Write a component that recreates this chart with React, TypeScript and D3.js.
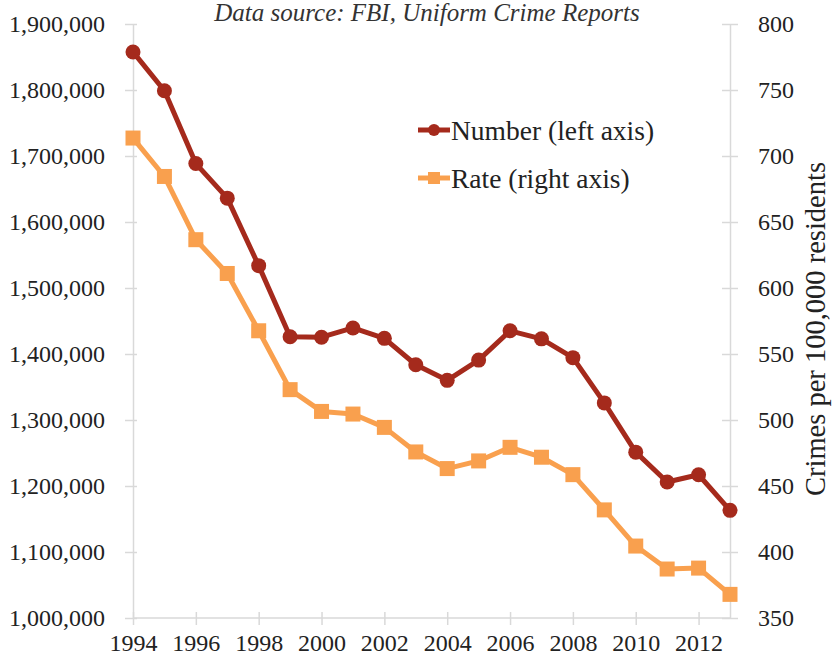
import React, { useRef, useEffect } from "react";
import * as d3 from "d3";

const years = [
  1994, 1995, 1996, 1997, 1998, 1999, 2000, 2001, 2002, 2003, 2004, 2005,
  2006, 2007, 2008, 2009, 2010, 2011, 2012, 2013,
];
const numberValues = [
  1857670, 1798792, 1688540, 1636096, 1533887, 1426044, 1425486, 1439480,
  1423677, 1383676, 1360088, 1390745, 1435123, 1422970, 1394461, 1325896,
  1251248, 1206005, 1217067, 1163146,
];
const rateValues = [
  713.6, 684.5, 636.6, 611.0, 567.6, 523.0, 506.5, 504.5, 494.4, 475.8, 463.2,
  469.0, 479.3, 471.8, 458.6, 431.9, 404.5, 387.1, 387.8, 367.9,
];
const xTicks = [1994, 1996, 1998, 2000, 2002, 2004, 2006, 2008, 2010, 2012];
const leftTicks = [
  1000000, 1100000, 1200000, 1300000, 1400000, 1500000, 1600000, 1700000,
  1800000, 1900000,
];
const rightTicks = [350, 400, 450, 500, 550, 600, 650, 700, 750, 800];

const width = 833;
const height = 655;
const margin = { top: 24, right: 103, bottom: 37, left: 133 };
const numberColor = "#a52a1c";
const rateColor = "#f9a04e";
const axisColor = "#d9d9d9";
const font = "'Liberation Serif', 'Times New Roman', serif";

const App: React.FC = () => {
  const svgRef = useRef<SVGSVGElement>(null);

  useEffect(() => {
    if (!svgRef.current) return;
    const svg = d3.select(svgRef.current);
    svg.selectAll("*").remove();

    const x = d3
      .scaleLinear()
      .domain([1994, 2013])
      .range([margin.left, width - margin.right]);
    const yLeft = d3
      .scaleLinear()
      .domain([1000000, 1900000])
      .range([height - margin.bottom, margin.top]);
    const yRight = d3
      .scaleLinear()
      .domain([350, 800])
      .range([height - margin.bottom, margin.top]);

    const styleAxis = (g: any) => {
      g.select(".domain").attr("stroke", axisColor).attr("stroke-width", 1.5);
      g.selectAll(".tick line").attr("stroke", axisColor).attr("stroke-width", 1.5);
      g.selectAll(".tick text")
        .attr("fill", "#222")
        .style("font-family", font)
        .style("font-size", "24px");
    };

    // x axis
    const gx = svg
      .append("g")
      .attr("transform", `translate(0,${height - margin.bottom})`)
      .call(
        d3
          .axisBottom(x)
          .tickValues(xTicks)
          .tickFormat(d3.format("d"))
          .tickSizeOuter(0)
      );
    styleAxis(gx);
    gx.selectAll(".tick line").attr("y1", -6).attr("y2", 7);
    gx.selectAll(".tick text").attr("y", 33).attr("dy", 0);
    gx.select(".domain").attr("d", `M${margin.left},0H${width - margin.right}`);

    // left axis
    const gl = svg
      .append("g")
      .attr("transform", `translate(${margin.left},0)`)
      .call(
        d3
          .axisLeft(yLeft)
          .tickValues(leftTicks)
          .tickFormat(d3.format(","))
          .tickSizeOuter(0)
          .tickPadding(22)
      );
    styleAxis(gl);
    gl.selectAll(".tick line").attr("x1", 4).attr("x2", -8);

    // right axis
    const gr = svg
      .append("g")
      .attr("transform", `translate(${width - margin.right},0)`)
      .call(
        d3
          .axisRight(yRight)
          .tickValues(rightTicks)
          .tickSizeOuter(0)
          .tickPadding(22)
      );
    styleAxis(gr);
    gr.selectAll(".tick line").attr("x1", -8).attr("x2", 8);

    // right axis title
    svg
      .append("text")
      .attr("transform", `translate(825,329) rotate(-90)`)
      .attr("text-anchor", "middle")
      .attr("fill", "#222")
      .style("font-family", font)
      .style("font-size", "28.5px")
      .text("Crimes per 100,000 residents");

    // source note
    svg
      .append("text")
      .attr("x", 427)
      .attr("y", 21)
      .attr("text-anchor", "middle")
      .attr("fill", "#333")
      .style("font-family", font)
      .style("font-style", "italic")
      .style("font-size", "25px")
      .text("Data source: FBI, Uniform Crime Reports");

    const numberData = years.map((yr, i) => ({ year: yr, value: numberValues[i] }));
    const rateData = years.map((yr, i) => ({ year: yr, value: rateValues[i] }));

    const rateLine = d3
      .line<{ year: number; value: number }>()
      .x((d) => x(d.year))
      .y((d) => yRight(d.value));
    const numberLine = d3
      .line<{ year: number; value: number }>()
      .x((d) => x(d.year))
      .y((d) => yLeft(d.value));

    // rate series
    svg
      .append("path")
      .datum(rateData)
      .attr("fill", "none")
      .attr("stroke", rateColor)
      .attr("stroke-width", 5)
      .attr("stroke-linejoin", "round")
      .attr("d", rateLine);
    svg
      .selectAll(".rate-pt")
      .data(rateData)
      .enter()
      .append("rect")
      .attr("x", (d) => x(d.year) - 7.5)
      .attr("y", (d) => yRight(d.value) - 7.5)
      .attr("width", 15)
      .attr("height", 15)
      .attr("fill", rateColor);

    // number series
    svg
      .append("path")
      .datum(numberData)
      .attr("fill", "none")
      .attr("stroke", numberColor)
      .attr("stroke-width", 5)
      .attr("stroke-linejoin", "round")
      .attr("d", numberLine);
    svg
      .selectAll(".num-pt")
      .data(numberData)
      .enter()
      .append("circle")
      .attr("cx", (d) => x(d.year))
      .attr("cy", (d) => yLeft(d.value))
      .attr("r", 7.5)
      .attr("fill", numberColor);

    // legend
    const legend = [
      { label: "Number (left axis)", color: numberColor, shape: "circle", y: 130 },
      { label: "Rate (right axis)", color: rateColor, shape: "square", y: 178 },
    ];
    legend.forEach((item) => {
      const g = svg.append("g");
      g.append("line")
        .attr("x1", 418)
        .attr("x2", 450)
        .attr("y1", item.y)
        .attr("y2", item.y)
        .attr("stroke", item.color)
        .attr("stroke-width", 5);
      if (item.shape === "circle") {
        g.append("circle").attr("cx", 434).attr("cy", item.y).attr("r", 6).attr("fill", item.color);
      } else {
        g.append("rect")
          .attr("x", 428)
          .attr("y", item.y - 6)
          .attr("width", 12)
          .attr("height", 12)
          .attr("fill", item.color);
      }
      g.append("text")
        .attr("x", 451)
        .attr("y", item.y)
        .attr("dy", "0.35em")
        .attr("fill", "#222")
        .style("font-family", font)
        .style("font-size", "27.5px")
        .text(item.label);
    });
  }, []);

  return (
    <svg
      ref={svgRef}
      width={width}
      height={height}
      style={{ position: "absolute", left: 0, top: 0, background: "#fff" }}
    />
  );
};

export default App;
